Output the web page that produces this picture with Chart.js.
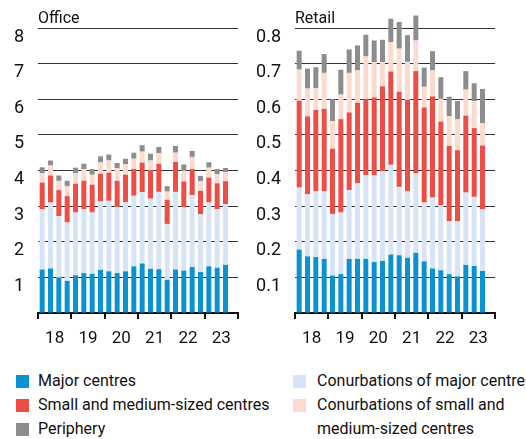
<!DOCTYPE html>
<html>
<head>
<meta charset="utf-8">
<script src="https://cdn.jsdelivr.net/npm/chart.js@4"></script>
<style>
  body { margin: 0; background: #fff; }
  #wrap { position: relative; width: 526px; height: 439px; font-family: Roboto, sans-serif; color: #111; }
  canvas { position: absolute; top: 0; }
  .leg { position: absolute; font-size: 16px; line-height: 24px; white-space: nowrap; }
  .leg span.sw { position: absolute; width: 13px; height: 13px; }
</style>
</head>
<body>
<div id="wrap">
  <canvas id="office" width="250" height="360" style="left:0"></canvas>
  <canvas id="retail" width="276" height="360" style="left:250px"></canvas>
  <div id="legend"></div>
</div>
<script>
const years = ['18', '19', '20', '21', '22', '23'];
// 24 quarters, 2018 Q1 .. 2023 Q4 (last one empty)
const quarters = [];
years.forEach(y => { for (let q = 1; q <= 4; q++) quarters.push(y + 'Q' + q); });

const seriesNames = ['Major centres', 'Conurbations of major centre', 'Small and medium-sized centres',
    'Conurbations of small and medium-sized centres', 'Periphery'];
const colors = ['#0a91d0', '#d7e4f5', '#ee4d45', '#fbdbd0', '#8d8d8d'];

const officeMajor = [1.22, 1.25, 0.99, 0.90, 1.06, 1.12, 1.10, 1.21, 1.17, 1.12, 1.17, 1.31, 1.39, 1.24, 1.23, 0.93, 1.22, 1.19, 1.29, 1.15, 1.31, 1.27, 1.35];
const officeConMajor = [1.69, 1.85, 1.73, 1.64, 1.76, 1.80, 1.72, 1.92, 1.98, 1.86, 1.94, 1.98, 2.00, 1.97, 2.17, 1.57, 2.18, 1.78, 2.02, 1.62, 1.79, 1.65, 1.71];
const officeSmall = [0.75, 0.76, 0.73, 0.74, 0.81, 0.79, 0.78, 0.78, 0.79, 0.73, 0.77, 0.75, 0.83, 0.79, 0.79, 0.68, 0.84, 0.72, 0.73, 0.66, 0.70, 0.72, 0.64];
const officeConSmall = [0.27, 0.28, 0.26, 0.28, 0.30, 0.33, 0.28, 0.32, 0.34, 0.35, 0.29, 0.29, 0.31, 0.28, 0.29, 0.23, 0.26, 0.31, 0.34, 0.27, 0.28, 0.26, 0.25];
const officePeriphery = [0.16, 0.14, 0.15, 0.15, 0.15, 0.15, 0.16, 0.17, 0.17, 0.15, 0.16, 0.17, 0.18, 0.19, 0.18, 0.15, 0.19, 0.17, 0.17, 0.15, 0.15, 0.14, 0.12];

const retailMajor = [0.178, 0.159, 0.157, 0.152, 0.105, 0.109, 0.152, 0.152, 0.152, 0.143, 0.146, 0.164, 0.162, 0.155, 0.169, 0.145, 0.125, 0.120, 0.109, 0.103, 0.135, 0.132, 0.118];
const retailConMajor = [0.174, 0.174, 0.185, 0.190, 0.173, 0.173, 0.193, 0.212, 0.235, 0.243, 0.252, 0.252, 0.192, 0.187, 0.223, 0.165, 0.199, 0.183, 0.149, 0.155, 0.203, 0.194, 0.174];
const retailSmall = [0.244, 0.219, 0.228, 0.231, 0.183, 0.262, 0.218, 0.226, 0.213, 0.219, 0.238, 0.262, 0.267, 0.256, 0.287, 0.267, 0.284, 0.234, 0.211, 0.199, 0.216, 0.193, 0.178];
const retailConSmall = [0.087, 0.078, 0.061, 0.101, 0.078, 0.069, 0.111, 0.091, 0.120, 0.099, 0.068, 0.082, 0.121, 0.107, 0.086, 0.058, 0.073, 0.064, 0.083, 0.087, 0.073, 0.076, 0.063];
const retailPeriphery = [0.053, 0.056, 0.059, 0.053, 0.062, 0.070, 0.066, 0.070, 0.061, 0.061, 0.063, 0.066, 0.075, 0.075, 0.070, 0.054, 0.054, 0.061, 0.055, 0.051, 0.052, 0.050, 0.096];

const FONT = 'Roboto, sans-serif';

// title drawn at the left edge of the plot area
const panelTitle = {
    id: 'panelTitle',
    afterDraw(chart, args, opts) {
        const ctx = chart.ctx;
        ctx.save();
        ctx.font = '16px ' + FONT;
        ctx.fillStyle = '#111';
        ctx.textBaseline = 'alphabetic';
        ctx.fillText(opts.text, chart.chartArea.left, chart.chartArea.top - 5);
        ctx.restore();
    }
};

function makePanel(id, title, series, max, step, decimals, axisWidth, padRight) {
    return new Chart(id, {
        type: 'bar',
        data: {
            labels: quarters,
            datasets: series.map((d, i) => ({
                label: seriesNames[i],
                data: d,
                backgroundColor: colors[i],
                barPercentage: 0.6,
                categoryPercentage: 1,
                clip: false // bars may rise above the top gridline
            }))
        },
        options: {
            responsive: false,
            animation: false,
            layout: { padding: { top: 28, right: padRight, left: 0, bottom: 0 } },
            plugins: {
                legend: { display: false },
                tooltip: { enabled: false },
                panelTitle: { text: title }
            },
            scales: {
                x: {
                    stacked: true,
                    afterFit: s => { s.height = 47; },
                    border: { display: true, color: '#111', width: 2 },
                    grid: {
                        offset: true,
                        drawOnChartArea: false,
                        drawTicks: true,
                        tickLength: 6,
                        lineWidth: 2,
                        color: c => (c.type !== 'tick' || c.index % 4 === 0) ? '#111' : 'rgba(0,0,0,0)'
                    },
                    ticks: {
                        autoSkip: false,
                        maxRotation: 0,
                        padding: 10,
                        labelOffset: 100 / 24,
                        color: '#111',
                        font: { family: FONT, size: 17 },
                        callback: (v, i) => i % 4 === 1 ? years[Math.floor(i / 4)] : ''
                    }
                },
                y: {
                    stacked: true,
                    min: 0,
                    max: max,
                    afterFit: s => { s.width = axisWidth; },
                    border: { display: false },
                    grid: { color: '#333', lineWidth: 1, drawTicks: false },
                    ticks: {
                        stepSize: step,
                        padding: 14,
                        labelOffset: 9,
                        color: '#111',
                        font: { family: FONT, size: 18 },
                        callback: v => v === 0 ? '' : v.toFixed(decimals)
                    }
                }
            }
        },
        plugins: [panelTitle]
    });
}

makePanel('office', 'Office', [officeMajor, officeConMajor, officeSmall, officeConSmall, officePeriphery], 8, 1, 0, 38, 12);
makePanel('retail', 'Retail', [retailMajor, retailConMajor, retailSmall, retailConSmall, retailPeriphery], 0.8, 0.1, 1, 45, 31);

// legend below both panels
const legendLeft = [[0, 'Major centres'], [2, 'Small and medium-sized centres'], [4, 'Periphery']];
const legendRight = [[1, 'Conurbations of major centre'], [3, 'Conurbations of small and<br>medium-sized centres']];
const legend = document.getElementById('legend');
function addItems(items, swX, textX) {
    items.forEach(([s, text], row) => {
        const el = document.createElement('div');
        el.className = 'leg';
        el.style.left = textX + 'px';
        el.style.top = (369 + row * 24) + 'px';
        el.innerHTML = text;
        const sw = document.createElement('span');
        sw.className = 'sw';
        sw.style.background = colors[s];
        sw.style.left = (swX - textX) + 'px';
        sw.style.top = '6px';
        el.appendChild(sw);
        legend.appendChild(el);
    });
}
addItems(legendLeft, 16, 38);
addItems(legendRight, 293, 317);
</script>
</body>
</html>
